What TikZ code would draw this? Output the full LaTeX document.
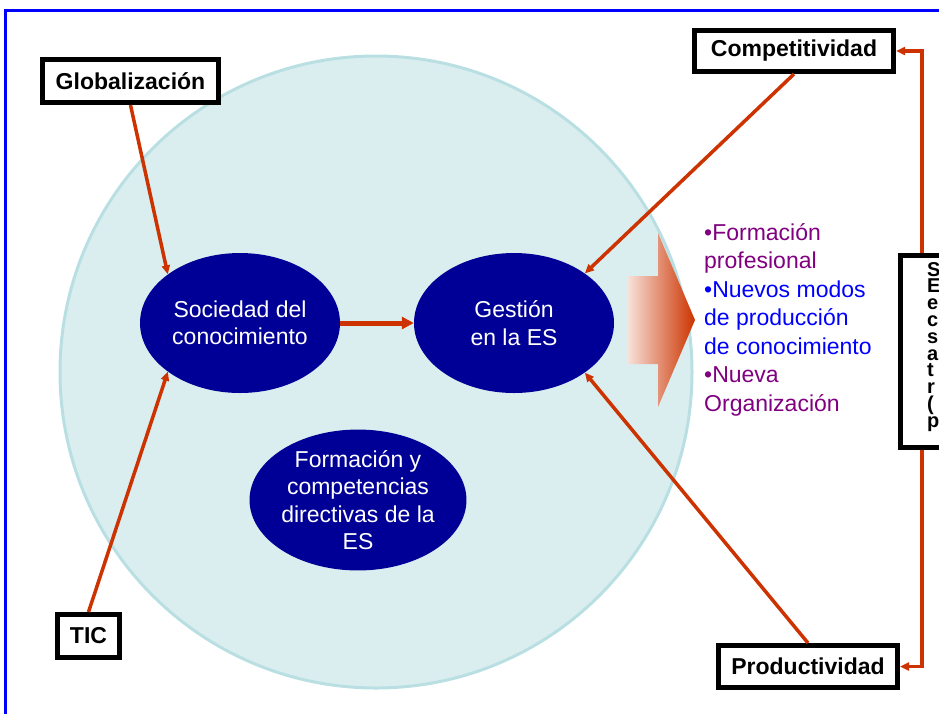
\documentclass[tikz,border=0pt]{standalone}
\usepackage{fontspec}
\setmainfont{Liberation Sans}
\usepackage{tikz}
\usetikzlibrary{arrows.meta, shapes.geometric}
\tikzset{>={Triangle[length=9pt, width=8pt]}}
\definecolor{lazo}{HTML}{CC3300}
\definecolor{marino}{HTML}{000096}
\definecolor{agua}{HTML}{DAEEF0}
\definecolor{aguaborde}{HTML}{B9DFE2}
\definecolor{morado}{HTML}{800080}

\begin{document}
\begin{tikzpicture}[x=1pt, y=-1pt,
    caja/.style={draw, line width=5pt, fill=white, inner sep=0pt, font=\fontsize{23}{27}\selectfont\bfseries},
    nube/.style={ellipse, fill=marino, text=white, minimum width=200pt, minimum height=140pt, inner sep=0pt, align=center, font=\fontsize{23}{27.5}\selectfont},
    flecha/.style={->, line width=3.5pt, color=lazo}]
    \useasboundingbox (0,0) rectangle (939,713);
    \clip (0,0) rectangle (939,713);
    \draw [blue, line width=3pt] (5,740) -- (5,10) -- (960,10);
    \draw [fill=agua, draw=aguaborde, line width=3pt] (376,372) circle [radius=316pt];
    \shade [left color=lazo!15, right color=lazo] (628,276) -- (658,276) -- (658,233) -- (695,320) -- (658,407) -- (658,364) -- (628,364) -- cycle;

    \node [caja, minimum width=176pt, minimum height=43pt] (glob) at (130.5,81) {Globalización};
    \node [caja, minimum width=199pt, minimum height=41pt] (comp) at (794,51) {Competitividad};
    \node [caja, minimum width=62pt, minimum height=43pt] (tic) at (88.5,636) {TIC};
    \node [caja, minimum width=179pt, minimum height=42pt] (prod) at (808,666.5) {Productividad};
    \node [caja, minimum width=43pt, minimum height=192pt] (rbox) at (922,351.5) {};
    \node [anchor=north west, inner sep=0pt, align=left, font=\fontsize{20}{16.8}\selectfont\bfseries] (rtexto) at (927,262) {S\\E\\e\\c\\s\\a\\t\\r\\(\\p};

    \node [nube] (soc) at (240,323) {Sociedad del\\conocimiento};
    \node [nube] (gest) at (514,323) {Gestión\\en la ES};
    \node [nube] (form) at (358,500) {Formación y\\competencias\\directivas de la\\ES};

    \node [anchor=north west, inner sep=0pt, align=left, font=\fontsize{23}{28.5}\selectfont] (lista) at (704,223)
        {\color{morado}•Formación\\\color{morado}profesional\\\color{blue}•Nuevos modos\\\color{blue}de producción\\\color{blue}de conocimiento\\\color{morado}•Nueva\\\color{morado}Organización};

    \draw [flecha] (glob.south) -- (soc.146);
    \draw [flecha] (tic.north) -- (soc.214);
    \draw [flecha, line width=5pt, >={Triangle[length=12pt, width=12pt]}] (soc.east) -- (gest.west);
    \draw [flecha] (comp.south) -- (gest.35);
    \draw [flecha] (prod.north) -- (gest.-35);
    \draw [flecha] (rbox.north) |- (comp.east);
    \draw [flecha] (rbox.south) |- (prod.east);
\end{tikzpicture}
\end{document}
